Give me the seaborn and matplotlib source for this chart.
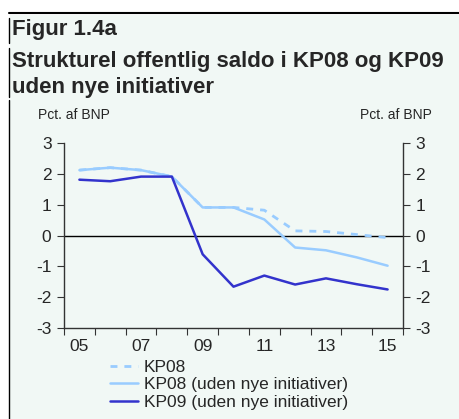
import matplotlib
matplotlib.use("Agg")
import matplotlib.pyplot as plt
from matplotlib import font_manager
from matplotlib.lines import Line2D
import seaborn as sns
import pandas as pd

years = [2005, 2006, 2007, 2008, 2009, 2010, 2011, 2012, 2013, 2014, 2015]
kp08 = [2.12, 2.2, 2.12, 1.91, 0.91, 0.91, 0.82, 0.15, 0.13, 0.03, -0.07]
kp08_uden = [2.12, 2.2, 2.12, 1.91, 0.91, 0.91, 0.52, -0.39, -0.48, -0.71, -0.98]
kp09_uden = [1.81, 1.76, 1.91, 1.91, -0.61, -1.66, -1.30, -1.59, -1.39, -1.58, -1.75]
series_names = ["KP08", "KP08 (uden nye initiativer)", "KP09 (uden nye initiativer)"]
tick_labels = ["05", "07", "09", "11", "13", "15"]

BG = "#f1f8f5"
LIGHT = "#99ccff"
DARK = "#3333cc"

sns.set_style("ticks")
names = {f.name for f in font_manager.fontManager.ttflist}
narrow = "Liberation Sans Narrow" if "Liberation Sans Narrow" in names else "Liberation Sans"
plt.rcParams["font.family"] = [narrow, "DejaVu Sans"]
plt.rcParams["axes.unicode_minus"] = False

df = pd.DataFrame({"year": years * 3,
                   "value": kp08 + kp08_uden + kp09_uden,
                   "serie": [series_names[0]] * 11 + [series_names[1]] * 11 + [series_names[2]] * 11})

fig = plt.figure(figsize=(4.59, 4.19), dpi=100)
fig.patch.set_facecolor("white")
# background panel and frame lines
fig.patches.append(plt.Rectangle((10 / 459, 0), 1, 1 - 15 / 419, transform=fig.transFigure,
                                 facecolor=BG, edgecolor="none", zorder=-10))
fig.lines.append(Line2D([9 / 459, 1], [1 - 13 / 419] * 2, transform=fig.transFigure, color="black", lw=1.5))
for y0, y1 in [(18, 43), (48, 97), (100, 419)]:
    fig.lines.append(Line2D([9 / 459] * 2, [1 - y0 / 419, 1 - y1 / 419], transform=fig.transFigure,
                            color="black", lw=1))

ax = fig.add_axes([64 / 459, 1 - 328 / 419, (403 - 64) / 459, (328 - 143) / 419])
ax.set_facecolor(BG)

sub = df[df["serie"] == series_names[0]]
sns.lineplot(data=sub, x="year", y="value", ax=ax, color=LIGHT, lw=2, linestyle=(0, (2.5, 2.5)), zorder=2)
sub = df[df["serie"] == series_names[1]]
sns.lineplot(data=sub, x="year", y="value", ax=ax, color=LIGHT, lw=1.8, zorder=3)
sub = df[df["serie"] == series_names[2]]
sns.lineplot(data=sub, x="year", y="value", ax=ax, color=DARK, lw=1.8, zorder=4)

ax.axhline(0, color="black", lw=1, zorder=1)
ax.set_xlim(2004.5, 2015.5)
ax.set_ylim(-3, 3)
ax.set_xticks([y + 0.5 for y in range(2004, 2016)])
ax.set_xticklabels([])
ax.set_xticks(years[::2], minor=True)
ax.set_xticklabels(tick_labels, minor=True, fontsize=12.5)
ax.tick_params(axis="x", which="minor", length=0, pad=8)
ax.tick_params(axis="x", which="major", length=5, color="#333333")
ax.set_yticks(range(-3, 4))
ax.tick_params(axis="y", labelsize=12.5, length=5, color="#333333", left=True, right=True,
               labelleft=True, labelright=True, pad=4)
ax.set_xlabel("")
ax.set_ylabel("")
for s in ["left", "right", "bottom"]:
    ax.spines[s].set_visible(True)
    ax.spines[s].set_color("#333333")
    ax.spines[s].set_linewidth(1)
ax.spines["top"].set_visible(False)
if ax.get_legend():
    ax.get_legend().remove()

fig.text(12 / 459, 1 - 29 / 419, "Figur 1.4a", fontsize=16, fontweight="bold", va="center", ha="left")
fig.text(12 / 459, 1 - 61 / 419, "Strukturel offentlig saldo i KP08 og KP09", fontsize=16,
         fontweight="bold", va="center", ha="left")
fig.text(12 / 459, 1 - 88 / 419, "uden nye initiativer", fontsize=16, fontweight="bold",
         va="center", ha="left")
fig.text(38 / 459, 1 - 115 / 419, "Pct. af BNP", fontsize=10, va="center", ha="left")
fig.text(432 / 459, 1 - 115 / 419, "Pct. af BNP", fontsize=10, va="center", ha="right")

handles = [Line2D([], [], color=LIGHT, lw=2, linestyle=(0, (2.5, 2.5))),
           Line2D([], [], color=LIGHT, lw=1.8),
           Line2D([], [], color=DARK, lw=1.8)]
fig.legend(handles, series_names, loc="upper left", bbox_to_anchor=(110 / 459, 1 - 360 / 419),
           frameon=False, fontsize=12.5, handlelength=1.6, handletextpad=0.35, labelspacing=0.12,
           borderpad=0, borderaxespad=0)

fig.savefig("out.png", dpi=100, facecolor=fig.get_facecolor())
